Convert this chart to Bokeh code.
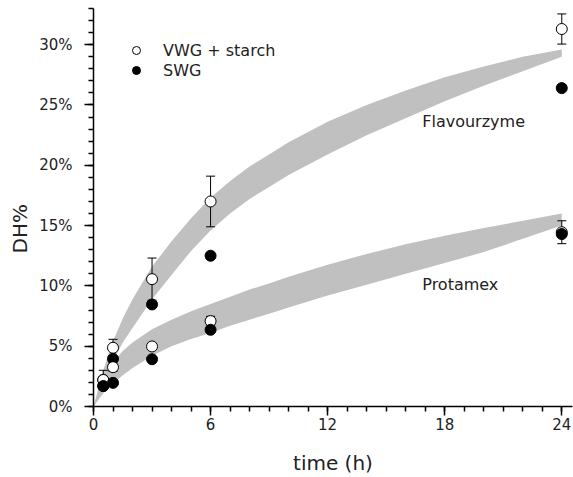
import math
from bokeh.plotting import figure
from bokeh.models import (Range1d, FixedTicker, PrintfTickFormatter, Legend,
                          LegendItem, Label, Title)
from bokeh.embed import file_html
from bokeh.resources import INLINE

# ---------------- data ----------------
time_pts = [0.5, 1, 3, 6, 24]
flav_vwg = [2.2, 4.87, 10.56, 17.0, 31.3]
flav_vwg_err = [0.8, 0.7, 1.75, 2.1, 1.25]
flav_swg = [1.7, 3.95, 8.46, 12.5, 26.4]
prot_vwg = [2.2, 3.26, 4.98, 7.08, 14.45]
prot_vwg_err = [0.3, 0.35, 0.25, 0.4, 0.95]
prot_swg = [1.7, 1.96, 3.92, 6.36, 14.3]

band_t = [0, 0.5, 1, 1.5, 2, 3, 4, 5, 6, 7, 8, 9, 10, 12, 14, 16, 18, 20, 22, 24]
flav_upper = [0, 3.0, 5.4, 7.3, 8.9, 11.6, 13.7, 15.6, 17.3, 18.7, 19.9, 20.9, 21.9,
              23.6, 25.0, 26.2, 27.3, 28.2, 29.0, 29.6]
flav_lower = [0, 1.7, 3.8, 5.3, 6.5, 8.9, 10.9, 12.9, 14.6, 16.0, 17.2, 18.2, 19.2,
              20.9, 22.5, 23.9, 25.3, 26.6, 27.8, 29.0]
prot_upper = [0, 2.5, 3.7, 4.6, 5.3, 6.4, 7.2, 7.9, 8.5, 9.1, 9.7, 10.2, 10.75,
              11.75, 12.65, 13.45, 14.15, 14.8, 15.4, 16.0]
prot_lower = [0, 1.1, 1.9, 2.6, 3.2, 4.2, 5.0, 5.6, 6.1, 6.7, 7.2, 7.7, 8.2,
              9.2, 10.1, 11.0, 11.9, 12.8, 13.9, 15.0]

x_ticks = [0, 6, 12, 18, 24]
y_ticks = [0, 5, 10, 15, 20, 25, 30]
series_labels = ["VWG + starch", "SWG"]
band_labels = ["Flavourzyme", "Protamex"]
band_label_pos = [(16.85, 23.66), (16.85, 10.12)]
x_title = "time (h)"
y_title = "DH%"

FONT = "DejaVu Sans"
TXT = "#222222"

p = figure(width=573, height=477, output_backend="svg", toolbar_location=None,
           x_range=Range1d(0, 24.55), y_range=Range1d(0, 33.0),
           min_border_left=93, min_border_right=1, min_border_top=8,
           min_border_bottom=71)
p.outline_line_color = None
p.xgrid.visible = False
p.ygrid.visible = False
p.background_fill_color = "white"
p.border_fill_color = "white"

# bands
p.varea(x=band_t, y1=flav_lower, y2=flav_upper, fill_color="#c0c0c0")
p.varea(x=band_t, y1=prot_lower, y2=prot_upper, fill_color="#c0c0c0")


def errbars(t, y, e):
    lo = [a - b for a, b in zip(y, e)]
    hi = [a + b for a, b in zip(y, e)]
    p.segment(x0=t, y0=lo, x1=t, y1=hi, line_color="black", line_width=1)
    p.scatter(x=t, y=hi, marker="dash", size=9, line_color="black", line_width=1)
    p.scatter(x=t, y=lo, marker="dash", size=9, line_color="black", line_width=1)


MS = 11
errbars(time_pts, flav_vwg, flav_vwg_err)
r_open = p.scatter(x=time_pts, y=flav_vwg, marker="circle", size=MS,
                   fill_color="white", line_color="black", line_width=1)
r_fill = p.scatter(x=time_pts, y=flav_swg, marker="circle", size=MS,
                   fill_color="black", line_color="black", line_width=1)
errbars(time_pts, prot_vwg, prot_vwg_err)
p.scatter(x=time_pts, y=prot_vwg, marker="circle", size=MS,
          fill_color="white", line_color="black", line_width=1)
p.scatter(x=time_pts, y=prot_swg, marker="circle", size=MS,
          fill_color="black", line_color="black", line_width=1)

# axes
for ax in (p.xaxis[0], p.yaxis[0]):
    ax.axis_line_width = 1.5
    ax.major_tick_line_width = 1.5
    ax.minor_tick_line_width = 1.5
    ax.major_tick_out = 9
    ax.major_tick_in = 0
    ax.minor_tick_out = 5
    ax.minor_tick_in = 0
    ax.major_label_text_font = FONT
    ax.major_label_text_font_size = "15px"
    ax.major_label_text_color = TXT
    ax.axis_label_text_font = FONT
    ax.axis_label_text_font_style = "normal"
    ax.axis_label_text_font_size = "20px"
    ax.axis_label_text_color = TXT

p.xaxis.ticker = FixedTicker(ticks=x_ticks, minor_ticks=list(range(0, 25)))
p.yaxis.ticker = FixedTicker(ticks=y_ticks, minor_ticks=list(range(0, 34)))
p.yaxis.formatter = PrintfTickFormatter(format="%d%%")
p.xaxis.major_label_standoff = 2
p.yaxis.major_label_standoff = 12
p.xaxis.axis_label = x_title
p.xaxis.axis_label_standoff = 18

# y axis title as a side title (it sits below the frame's centre in the reference)
p.add_layout(Title(text=y_title, align="left", offset=153, standoff=10,
                   text_font=FONT, text_font_size="20px", text_font_style="normal",
                   text_color=TXT), "left")

for lab, (lx, ly) in zip(band_labels, band_label_pos):
    p.add_layout(Label(x=lx, y=ly, text=lab, text_align="left",
                       text_baseline="alphabetic", text_font=FONT,
                       text_font_size="16px", text_color=TXT))

legend = Legend(items=[LegendItem(label=series_labels[0], renderers=[r_open]),
                       LegendItem(label=series_labels[1], renderers=[r_fill])],
                location=(33, 326), orientation="vertical")
legend.padding = 0
legend.margin = 0
legend.spacing = 0
legend.glyph_width = 20
legend.glyph_height = 20
legend.label_height = 16
legend.label_standoff = 17
legend.label_text_font = FONT
legend.label_text_font_size = "16px"
legend.label_text_color = TXT
legend.border_line_color = None
legend.background_fill_alpha = 0
p.add_layout(legend, "center")

open("out.html", "w").write(file_html(p, INLINE))
